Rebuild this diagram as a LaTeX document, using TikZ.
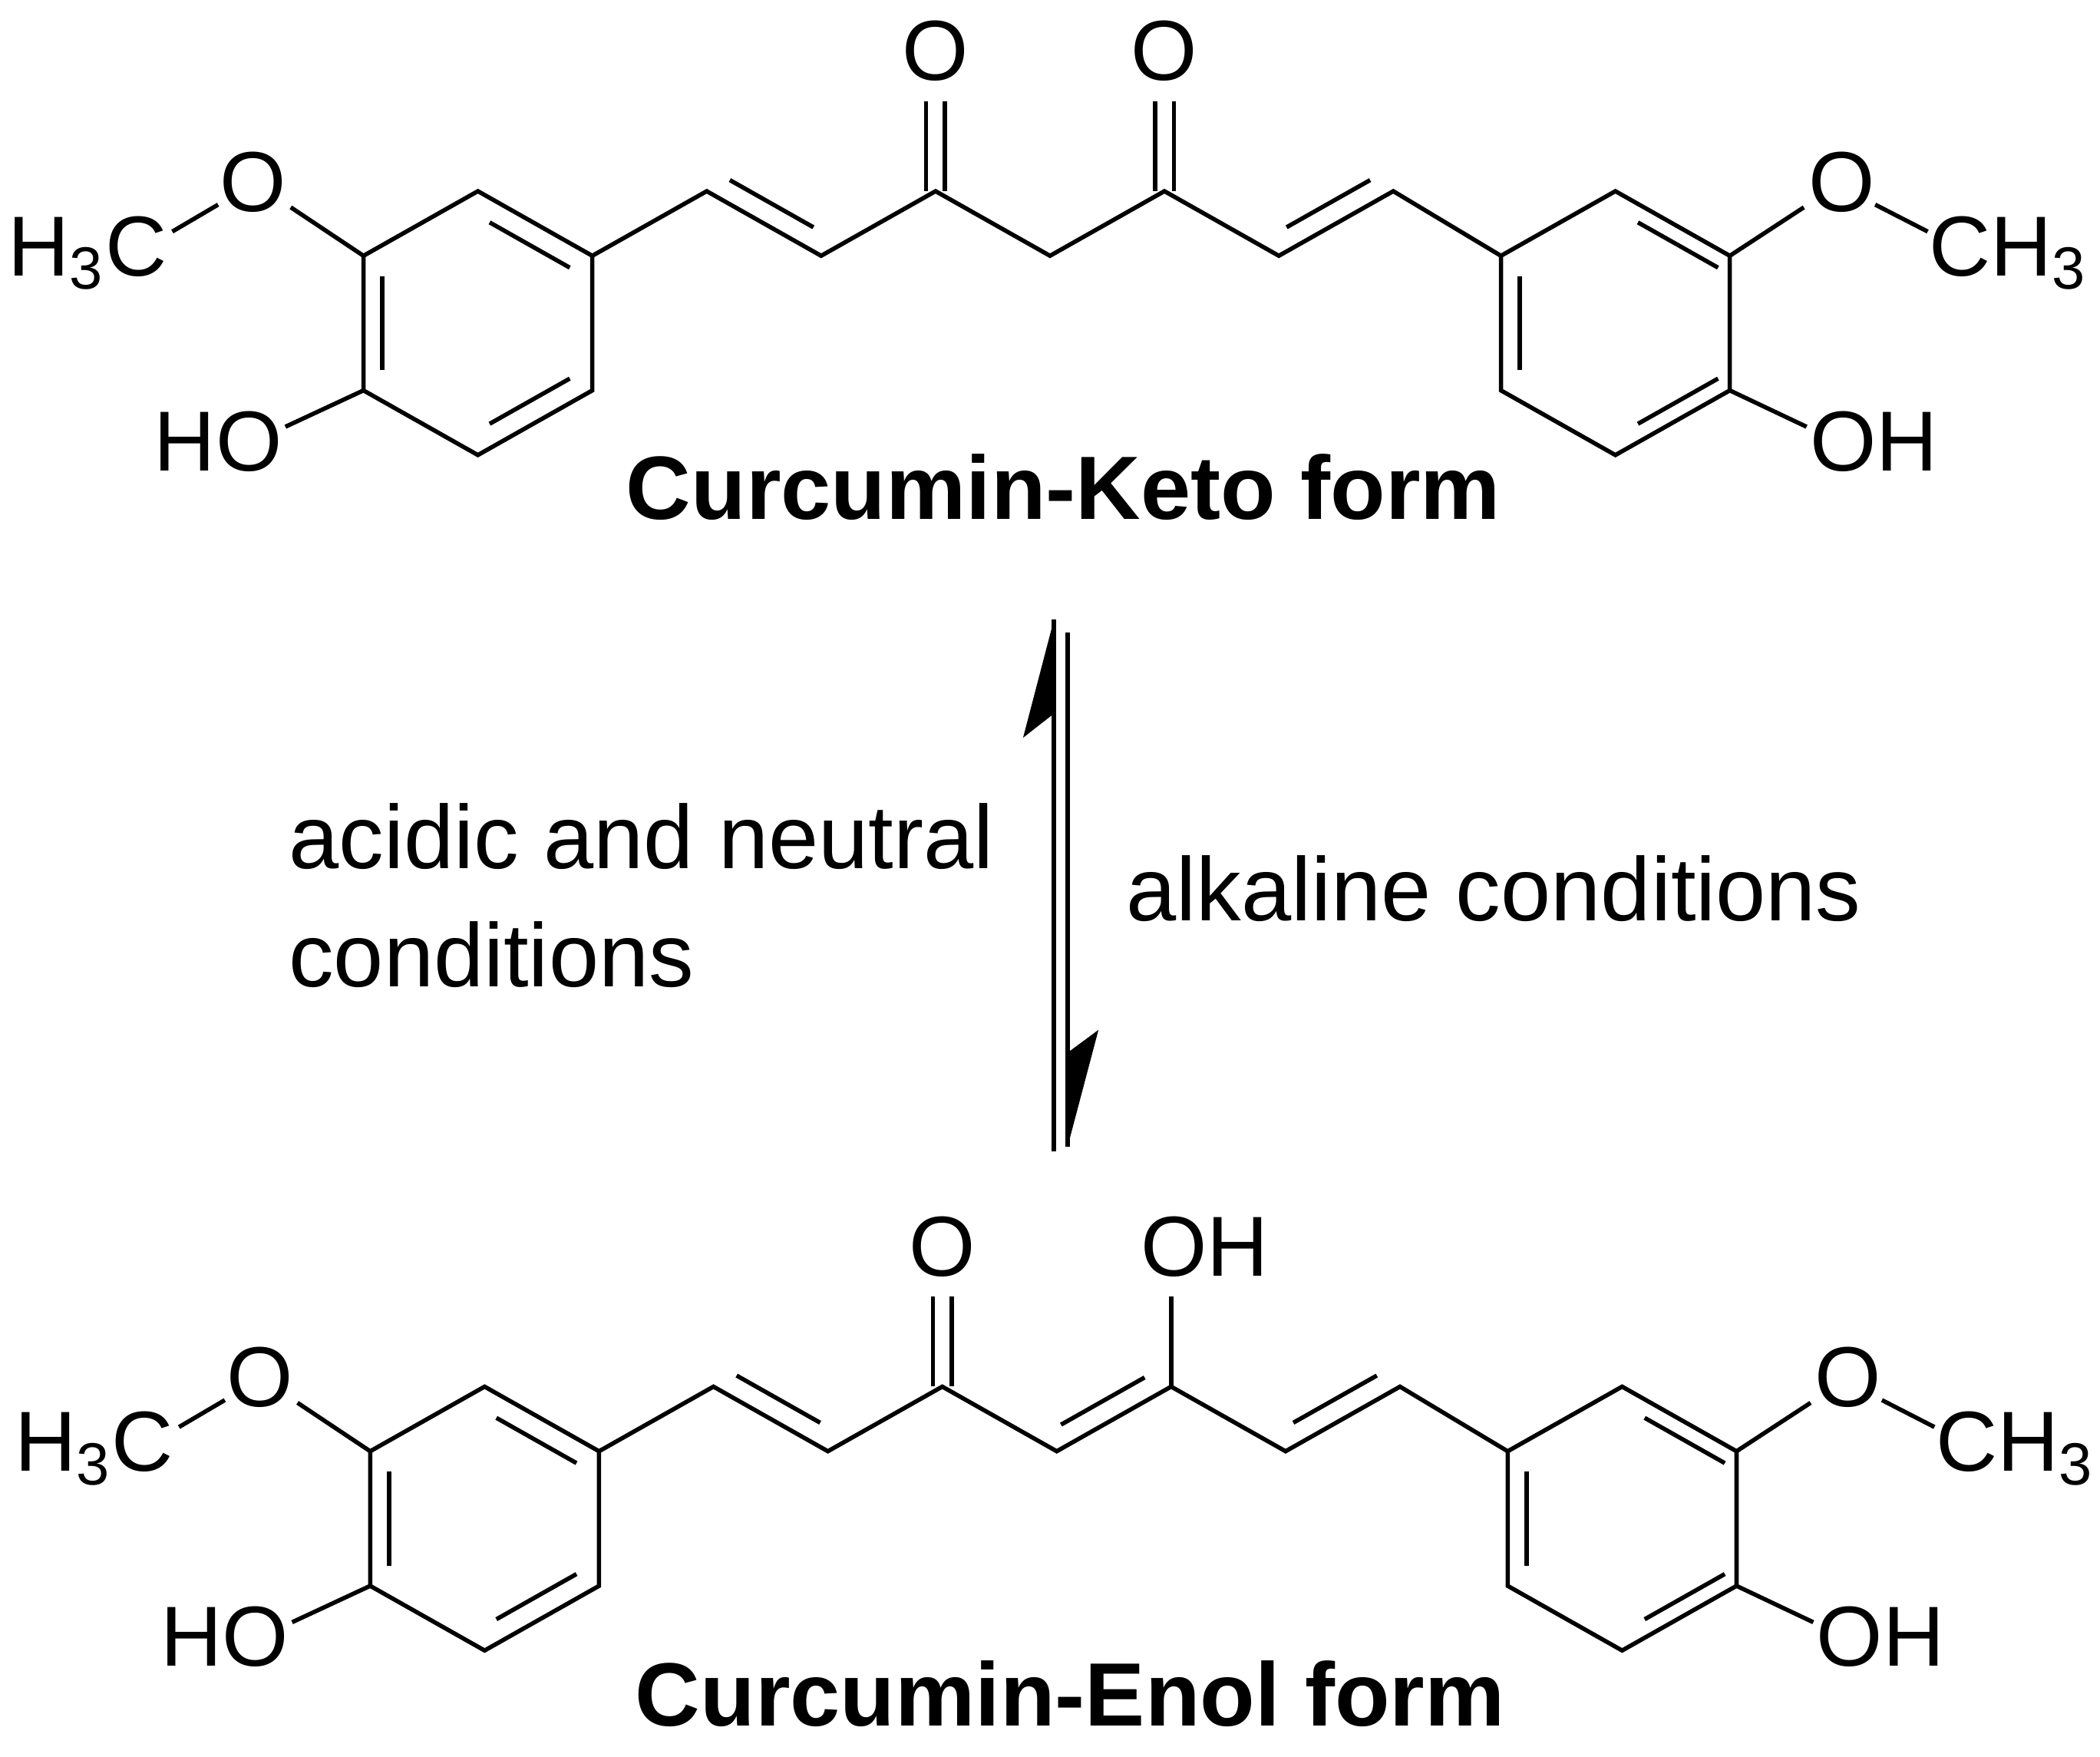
\documentclass[tikz,border=0pt]{standalone}
\usepackage{fontspec}
\setmainfont{Liberation Sans}
\usetikzlibrary{calc}
\begin{document}
\begin{tikzpicture}[x=0.01cm,y=-0.01cm,line width=0.9pt,
  atom/.style={inner sep=0pt,font=\fontsize{18}{20}\selectfont},
  title/.style={inner sep=0pt,font=\fontsize{19}{22}\selectfont\bfseries},
  cond/.style={inner sep=0pt,font=\fontsize{19}{25}\selectfont,align=left}]
\useasboundingbox (0,0) rectangle (1560,1305);
\newcommand{\curc}[3]{% #1 yoffset, #2 xoffset, #3 enol?
\begin{scope}[shift={(#2,#1)}]
\coordinate (a1) at (355,142); \coordinate (a2) at (440,190); \coordinate (a3) at (440,290);
\coordinate (a4) at (355,338); \coordinate (a5) at (270,290); \coordinate (a6) at (270,190);
\draw (a1)--(a2)--(a3)--(a4)--(a5)--(a6)--cycle;
\draw ($(a1)!0.15!(a2)+(-4,16)$) -- ($(a1)!0.85!(a2)+(-4,16)$);
\draw (284,205)--(284,275);
\draw ($(a4)!0.15!(a3)+(-4,-16)$) -- ($(a4)!0.85!(a3)+(-4,-16)$);
\coordinate (c1) at (525,142); \coordinate (c2) at (610,190); \coordinate (c3) at (695,142);
\coordinate (c4) at (780,190); \coordinate (c5) at (865,142); \coordinate (c6) at (950,190);
\coordinate (c7) at (1035,142);
\draw (a2)--(c1)--(c2)--(c3)--(c4)--(c5)--(c6)--(c7)--(1115,190);
\draw ($(c1)!0.12!(c2)+(7,-14)$) -- ($(c1)!0.85!(c2)+(7,-14)$);
\draw ($(c6)!0.15!(c7)+(-7,-14)$) -- ($(c6)!0.88!(c7)+(-7,-14)$);
\coordinate (b1) at (1200,142); \coordinate (b2) at (1285,190); \coordinate (b3) at (1285,290);
\coordinate (b4) at (1200,338); \coordinate (b5) at (1115,290); \coordinate (b6) at (1115,190);
\draw (b1)--(b2)--(b3)--(b4)--(b5)--(b6)--cycle;
\draw ($(b1)!0.15!(b2)+(4,16)$) -- ($(b1)!0.85!(b2)+(4,16)$);
\draw (1129,205)--(1129,275);
\draw ($(b4)!0.15!(b3)+(4,-16)$) -- ($(b4)!0.85!(b3)+(4,-16)$);
\node[atom] (oL) at (188,135) {O};
\node[atom] (meL) at (65,188) {H\textsubscript{3}C};
\node[atom] (hoL) at (162,328) {HO};
\draw (a6)--(216,154); \draw (162,152)--(128,172); \draw (a5)--(212,317);
\node[atom] (oR) at (1368,135) {O};
\node[atom] (meR) at (1492,188) {CH\textsubscript{3}};
\node[atom] (hoR) at (1392,328) {OH};
\draw (b2)--(1340,154); \draw (1393,152)--(1432,172); \draw (b3)--(1342,317);
\node[atom] (o1) at (695,38) {O};
\draw ($(c3)+(-7,0)$)--(688,75); \draw ($(c3)+(7,0)$)--(702,75);
\ifnum#3=0
\node[atom] (o2) at (865,38) {O};
\draw ($(c5)+(-7,0)$)--(858,75); \draw ($(c5)+(7,0)$)--(872,75);
\else
\node[atom] (o2) at (890,38) {OH};
\draw (c5)--(865,75);
\draw ($(c4)!0.12!(c5)+(-7,-14)$) -- ($(c4)!0.85!(c5)+(-7,-14)$);
\fi
\end{scope}}
\curc{0}{0}{0}
\curc{888}{5}{1}
\node[title] (t1) at (790,362) {Curcumin-Keto form};
\node[title] (t2) at (795,1258) {Curcumin-Enol form};
\coordinate (u1) at (783,855); \coordinate (u2) at (783,460);
\coordinate (d1) at (793,470); \coordinate (d2) at (793,852);
\draw (u1)--(u2); \draw (d1)--(d2);
\fill (u2)--(760,548)--(783,530)--cycle;
\fill (d2)--(816,765)--(793,782)--cycle;
\node[cond,anchor=west] (L) at (213,665) {acidic and neutral\\conditions};
\node[cond,anchor=west] (R) at (835,660) {alkaline conditions};
\end{tikzpicture}
\end{document}
